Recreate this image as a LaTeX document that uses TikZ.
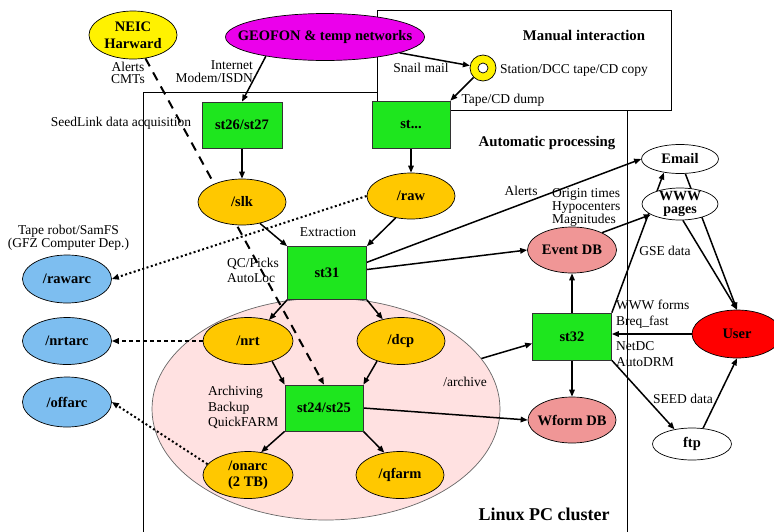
\documentclass[tikz,border=0pt]{standalone}
\usepackage{fontspec}
\setmainfont{Liberation Serif}
\usetikzlibrary{shapes.geometric,arrows.meta,calc}
\pgfdeclarelayer{back}
\pgfdeclarelayer{edges}
\pgfsetlayers{back,edges,main}
\definecolor{boxgreen}{RGB}{30,230,30}
\definecolor{gold}{RGB}{255,200,0}
\definecolor{sky}{RGB}{125,190,240}
\definecolor{rose}{RGB}{240,150,150}
\definecolor{palepink}{RGB}{255,225,225}
\definecolor{magent}{RGB}{235,0,235}
\newcommand{\zb}[1]{\makebox[0pt]{#1}}
\begin{document}
\begin{tikzpicture}[x=1pt,y=-1pt,
  nfont/.style={font=\bfseries\fontsize{14.5}{16}\selectfont},
  ell/.style={ellipse, draw, line width=0.7pt, inner sep=0pt, nfont},
  stbox/.style={rectangle, draw=black!80, line width=0.7pt, fill=boxgreen, inner sep=0pt, minimum width=79pt, minimum height=47pt, nfont},
  lbl/.style={inner sep=0pt, align=center, font=\fontsize{13.5}{12.6}\selectfont},
  hlbl/.style={inner sep=0pt, font=\bfseries\fontsize{14.8}{16}\selectfont},
  arr/.style={line width=1.5pt, -{Triangle[length=7pt,width=5.5pt]}},
  dotarr/.style={line width=2pt, dash pattern=on 2pt off 2.5pt, -{Triangle[length=7pt,width=5.5pt]}},
  dasharr/.style={line width=2pt, dash pattern=on 9pt off 7pt, -{Triangle[length=7pt,width=5.5pt]}},
  dasharrb/.style={line width=2pt, dash pattern=on 4pt off 3pt, -{Triangle[length=7pt,width=5.5pt]}},
  frame/.style={line width=1pt}
]
\useasboundingbox (0,0) rectangle (774,531);

\begin{pgfonlayer}{back}
\draw[frame] (143,545) -- (143,92) -- (378,92);
\draw[frame] (627,110) -- (627,545);
\draw[frame, fill=white] (377,10) rectangle (671,110);
\node[ellipse, draw=black!60, line width=0.7pt, fill=palepink, minimum width=348pt, minimum height=222pt, inner sep=0pt] (arch) at (326,409) {};
\end{pgfonlayer}

% nodes
\node[ell, fill=yellow, minimum width=88pt, minimum height=48pt, align=center, font=\bfseries\fontsize{14.5}{16.7}\selectfont] (neic) at (133,35) {NEIC\\Harward};
\node[ell, fill=magent, minimum width=199pt, minimum height=47pt] (geofon) at (325,37) {\zb{GEOFON \& temp networks}};
\node[circle, draw, line width=0.7pt, fill=yellow, minimum size=26pt, inner sep=0pt] (cd) at (483,68) {};
\node[circle, draw, line width=0.7pt, fill=white, minimum size=10pt, inner sep=0pt] (cdhole) at (cd) {};

\node[stbox, minimum width=80pt, minimum height=46pt] (st2627) at (242,125) {st26/st27};
\node[stbox, minimum width=78pt] (stx) at (411,124.5) {st...};
\node[ell, fill=gold, minimum width=88pt, minimum height=46pt] (slk) at (242,202) {\zb{/slk}};
\node[ell, fill=gold, minimum width=88pt, minimum height=46pt] (raw) at (411,196) {\zb{/raw}};
\node[stbox, minimum height=53pt] (st31) at (327,273) {st31};

\node[ell, fill=sky, minimum width=89pt, minimum height=48pt] (rawarc) at (67,279) {\zb{/rawarc}};
\node[ell, fill=sky, minimum width=89pt, minimum height=47pt] (nrtarc) at (67,341) {\zb{/nrtarc}};
\node[ell, fill=sky, minimum width=89pt, minimum height=50pt] (offarc) at (67,402) {\zb{/offarc}};

\node[ell, fill=gold, minimum width=90pt, minimum height=47pt] (nrt) at (248,341) {\zb{/nrt}};
\node[ell, fill=gold, minimum width=88pt, minimum height=47pt] (dcp) at (401,341) {\zb{/dcp}};
\node[stbox, minimum width=78pt, minimum height=46pt] (st2425) at (324,408) {st24/st25};
\node[ell, fill=gold, minimum width=90pt, minimum height=47pt, align=center] (onarc) at (248,475) {/onarc\\(2 TB)};
\node[ell, fill=gold, minimum width=88pt, minimum height=47pt] (qfarm) at (400,475) {\zb{/qfarm}};

\node[ell, fill=rose, minimum width=89pt, minimum height=46pt] (eventdb) at (572,250) {\zb{Event DB}};
\node[stbox] (st32) at (572,336.5) {st32};
\node[ell, fill=rose, minimum width=88pt, minimum height=46pt] (wformdb) at (572,420) {\zb{Wform DB}};

\node[ell, fill=white, minimum width=77pt, minimum height=29pt] (email) at (680,159) {\zb{Email}};
\node[ell, fill=white, minimum width=76pt, minimum height=32pt] (www) at (680,204) {};
\node[inner sep=0pt, align=center, font=\bfseries\fontsize{14}{13}\selectfont] (wwwtext) at (www) {WWW\\pages};
\node[ell, fill=red, minimum width=90pt, minimum height=48pt] (user) at (737,334) {\zb{User}};
\node[ell, fill=white, minimum width=79pt, minimum height=32pt] (ftp) at (692,444) {\zb{ftp}};

% labels
\node[lbl] (lalerts) at (128,73) {Alerts\\CMTs};
\node[lbl, anchor=east, align=right] (linet) at (253,71.5) {Internet\\Modem/ISDN};
\node[lbl] (lsnail) at (421,68) {Snail mail};
\node[lbl, anchor=west] (lstation) at (500,70) {Station/DCC tape/CD copy};
\node[lbl] (ltape) at (503,100) {Tape/CD dump};
\node[hlbl] (lmanual) at (584,35) {Manual interaction};
\node[lbl] (lseed) at (121,123) {SeedLink data acquisition};
\node[lbl, font=\fontsize{13.5}{13}\selectfont] (lrobot) at (68.5,237.5) {Tape robot/SamFS\\(GFZ Computer Dep.)};
\node[lbl] (lextr) at (328,232) {Extraction};
\node[lbl, anchor=west, align=left, font=\fontsize{13.5}{15}\selectfont] (lqc) at (227,270.5) {QC/Picks\\AutoLoc};
\node[hlbl] (lauto) at (547,143) {Automatic processing};
\node[lbl] (lalerts2) at (521,191) {Alerts};
\node[lbl, anchor=west, align=left] (lorigin) at (552,207.5) {Origin times\\Hypocenters\\Magnitudes};
\node[lbl] (lgse) at (665,251) {GSE data};
\node[lbl, anchor=west] (lwwwf) at (616,305) {WWW forms};
\node[lbl, anchor=west] (lbreq) at (616,322) {Breq\_fast};
\node[lbl, anchor=west] (lnetdc) at (616,346) {NetDC};
\node[lbl, anchor=west] (ladrm) at (616,362) {AutoDRM};
\node[lbl] (larchive) at (465,382) {/archive};
\node[lbl, anchor=west, align=left, font=\fontsize{13.5}{15.3}\selectfont] (larchiving) at (208,407.5) {Archiving\\Backup\\QuickFARM};
\node[lbl] (lseeddata) at (683,399) {SEED data};
\node[inner sep=0pt, font=\bfseries\fontsize{18}{20}\selectfont] (llinux) at (544,514) {Linux PC cluster};

% edges
\begin{pgfonlayer}{edges}
\draw[arr] (geofon.198) -- (st2627.north);
\draw[arr] (geofon.348) -- (cd);
\draw[arr] (cd.225) -- (stx.north east);
\draw[arr] (st2627) -- (slk);
\draw[arr] (stx) -- (raw);
\draw[arr] (slk.-50) -- (st31.north west);
\draw[arr] (raw.235) -- (st31.north east);
\draw[dotarr] (raw.west) -- (rawarc.east);
\draw[dasharr] (neic.-62) -- (st2425.north);
\draw[arr] (st31.15) -- (email.west);
\draw[arr] (st31.5) -- (eventdb.west);
\draw[arr] (eventdb.30) -- (www.200);
\draw[arr] (st32) -- (eventdb);
\draw[arr] (st32) -- (wformdb);
\draw[arr] (st2425.east) -- (wformdb.west);
\draw[arr] (arch.18) -- (st32.190);
\draw[arr] (st32.south east) -- (ftp.140);
\draw[arr] (ftp.55) -- (user.south);
\draw[arr] (user.west) -- (user.west -| st32.east);
\draw[arr] (st32.north east) -- (email.220);
\draw[arr] (email.290) -- (user.north);
\draw[arr] (www.280) -- (user.north);
\draw[arr] (st31.south west) -- (nrt.45);
\draw[arr] (st31.south east) -- (dcp.130);
\draw[arr] (nrt.-40) -- (st2425.north west);
\draw[arr] (dcp.220) -- (st2425.north east);
\draw[arr] (st2425.south west) -- (onarc.60);
\draw[arr] (st2425.south east) -- (qfarm.125);
\draw[dasharrb] (nrt.west) -- (nrtarc.east);
\draw[dotarr] (onarc.165) -- (offarc.east);
\end{pgfonlayer}
\end{tikzpicture}
\end{document}
